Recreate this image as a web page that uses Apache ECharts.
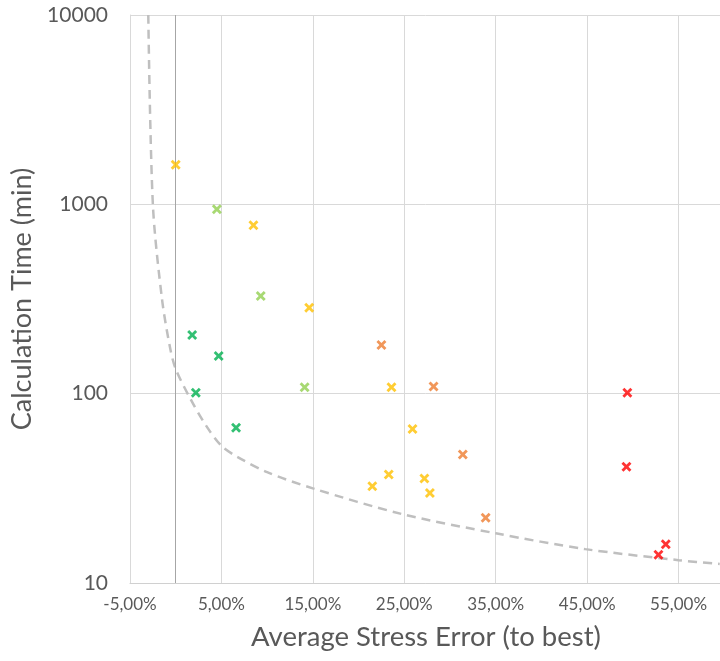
<!DOCTYPE html>
<html>
<head>
<meta charset="utf-8">
<script src="https://cdn.jsdelivr.net/npm/echarts@6/dist/echarts.min.js"></script>
<style>html,body{margin:0;padding:0;background:#fff}#c{width:720px;height:661px}</style>
</head>
<body>
<div id="c"></div>
<script>
// Data: [Average Stress Error (%), Calculation Time (min)]
var darkGreen = [[1.8, 204], [4.7, 158], [2.2, 101], [6.6, 66]];
var lightGreen = [[4.5, 942], [9.3, 328], [14.1, 108]];
var yellow = [[0.0, 1620], [8.5, 775], [14.6, 284], [23.6, 108], [25.9, 65], [21.5, 32.4], [23.3, 37.4], [27.2, 35.6], [27.8, 29.9]];
var orange = [[22.5, 181], [28.2, 109], [31.4, 47.7], [33.9, 22.1]];
var red = [[49.4, 101], [49.3, 41.1], [53.6, 16.0], [52.8, 14.1]];
var frontier = [[-3.0, 10000], [-2.5, 1000], [-1.5, 316], [-0.6, 173], [0.0, 135], [1.6, 94], [3.3, 68], [5.0, 53], [6.7, 46.5], [10.0, 38.5], [15.0, 31.6], [24.8, 23.1], [35.0, 18.3], [44.8, 15.1], [55.0, 13.2], [59.5, 12.6]];
var yTicks = [10, 100, 1000, 10000];

var xShape = 'path://M2,0 L5,3 L8,0 L10,2 L7,5 L10,8 L8,10 L5,7 L2,10 L0,8 L3,5 L0,2 Z';
function pts(name, data, color) {
  return { name: name, type: 'scatter', data: data, symbol: xShape, symbolSize: 10,
    itemStyle: { color: color }, z: 5 };
}
var fontFam = 'Lato, "Open Sans", sans-serif';
var chart = echarts.init(document.getElementById('c'), null, { renderer: 'canvas' });
chart.setOption({
  animation: false,
  backgroundColor: '#ffffff',
  grid: { left: 130, top: 15, right: -50, bottom: 78, containLabel: false, outerBoundsMode: 'none' },
  xAxis: {
    type: 'value', min: -5, max: 65, interval: 10,
    name: 'Average Stress Error (to best)', nameLocation: 'middle', nameGap: 40,
    nameTextStyle: { fontFamily: fontFam, fontSize: 27.5, color: '#595959', padding: [0, 48, 0, 0] },
    axisLine: { show: true, onZero: false, lineStyle: { color: '#D0D0D0', width: 1 } },
    axisTick: { show: false },
    axisLabel: { margin: 13, fontFamily: fontFam, fontSize: 17, color: '#595959',
      formatter: function (v) { return v.toFixed(2).replace('.', ',') + '%'; } },
    splitLine: { show: true, lineStyle: { color: '#D9D9D9', width: 1 } }
  },
  yAxis: {
    type: 'log', logBase: 10, min: yTicks[0], max: yTicks[yTicks.length - 1],
    name: 'Calculation Time (min)', nameLocation: 'middle', nameGap: 91,
    nameTextStyle: { fontFamily: fontFam, fontSize: 27, color: '#595959' },
    axisLine: { show: true, onZero: false, lineStyle: { color: '#D9D9D9', width: 1 } },
    axisTick: { show: false },
    axisLabel: { margin: 22, fontFamily: fontFam, fontSize: 21, color: '#595959',
      formatter: function (v) { return String(Math.round(v)); } },
    splitLine: { show: true, lineStyle: { color: '#D9D9D9', width: 1 } }
  },
  series: [
    { name: 'frontier', type: 'line', data: frontier, smooth: 0.3, symbol: 'none',
      lineStyle: { color: '#BFBFBF', width: 2.5, type: [9, 6] }, z: 3,
      markLine: { silent: true, symbol: 'none', label: { show: false },
        lineStyle: { color: '#A6A6A6', width: 1, type: 'solid' },
        data: [{ xAxis: 0 }] } },
    pts('darkGreen', darkGreen, '#00B050'),
    pts('lightGreen', lightGreen, '#92D050'),
    pts('yellow', yellow, '#FFC000'),
    pts('orange', orange, '#ED7D31'),
    pts('red', red, '#FF0000')
  ]
});
</script>
</body>
</html>
